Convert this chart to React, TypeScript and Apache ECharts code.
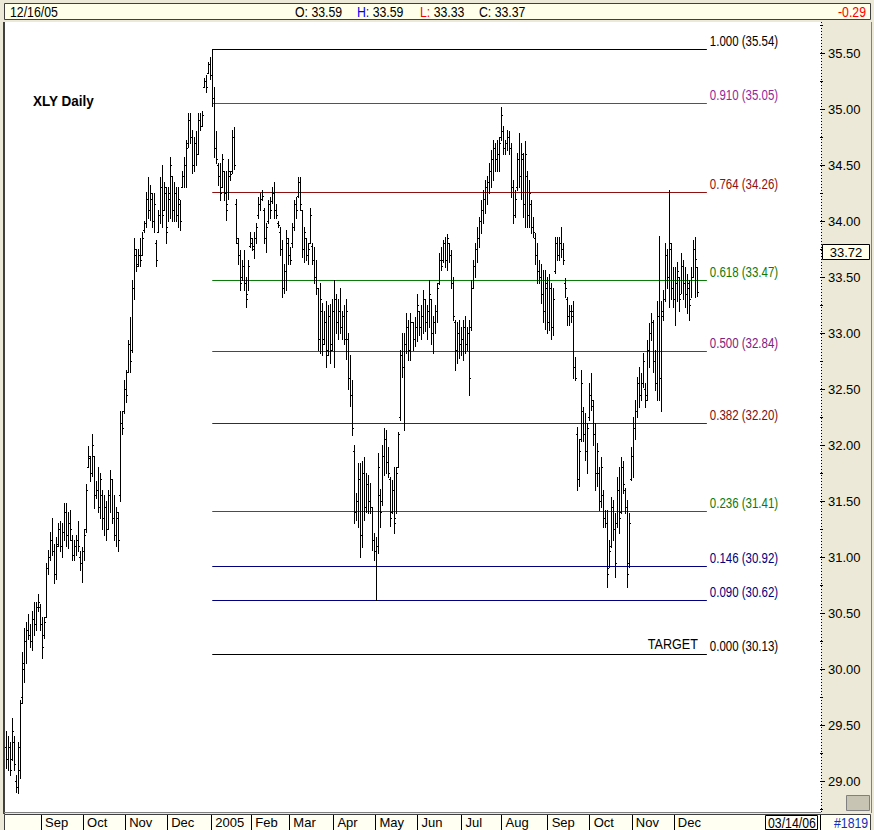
import React, { useEffect, useRef } from 'react';
import * as echarts from 'echarts';

// ---------- DATA ----------
const opens = [
  29.30, 29.20, 29.30, 29.20, 29.35, 29.00, 28.95, 29.10, 29.75, 30.00,
  30.25, 30.35, 30.30, 30.25, 30.45, 30.40, 30.55, 30.55, 30.40, 30.30,
  30.46, 30.90, 31.00, 31.15, 31.05, 30.85, 31.12, 31.25, 31.10, 31.22,
  31.40, 31.20, 31.30, 31.15, 31.02, 31.10, 31.15, 31.00, 30.95, 31.05,
  31.25, 31.80, 31.88, 31.75, 31.90, 31.55, 31.60, 31.45, 31.55, 31.35,
  31.45, 31.25, 31.55, 31.70, 31.35, 31.20, 31.35, 31.55, 32.20, 32.30,
  32.50, 32.65, 32.90, 32.85, 33.40, 33.70, 33.62, 33.70, 33.70, 33.92,
  33.98, 34.20, 34.10, 34.20, 34.00, 33.80, 33.90, 34.05, 34.30, 34.10,
  34.25, 33.95, 34.20, 34.40, 34.10, 34.25, 34.05, 34.15, 34.30, 34.40,
  34.50, 34.70, 34.90, 34.75, 34.50, 34.70, 34.60, 34.90, 34.85, 35.20,
  35.25, 35.32, 35.40, 35.30, 35.10, 34.65, 34.50, 34.40, 34.30, 34.45,
  34.25, 34.15, 34.40, 34.45, 34.75, 34.15, 33.80, 33.70, 33.50, 33.60,
  33.45, 33.35, 33.78, 33.80, 33.75, 33.85, 34.05, 34.15, 34.20, 34.10,
  33.85, 34.00, 34.15, 34.18, 34.25, 34.10, 33.98, 33.90, 33.75, 33.40,
  33.55, 33.80, 33.70, 33.80, 33.95, 34.15, 34.22, 34.35, 34.10, 33.75,
  33.85, 33.70, 33.80, 33.78, 33.65, 33.50, 33.40, 32.95, 33.20, 32.95,
  33.10, 32.85, 33.15, 32.90, 33.20, 33.30, 33.10, 33.20, 33.05, 33.15,
  32.95, 32.95, 32.60, 32.45, 31.95, 31.40, 31.50, 31.70, 31.20, 31.75,
  31.45, 31.65, 31.50, 31.45, 31.15, 31.05, 31.10, 31.55, 31.50, 31.90,
  32.05, 31.85, 31.70, 31.40, 31.60, 31.35, 31.80, 32.25, 32.80, 32.70,
  32.90, 33.05, 32.85, 33.10, 32.95, 33.05, 33.20, 33.05, 33.15, 33.30,
  33.10, 33.20, 33.30, 33.00, 33.10, 33.20, 33.45, 33.65, 33.65, 33.80,
  33.65, 33.80, 33.70, 33.45, 33.10, 32.85, 33.00, 32.90, 32.95, 33.05,
  32.90, 33.00, 33.05, 33.40, 33.60, 33.75, 33.85, 34.00, 34.10, 34.20,
  34.30, 34.35, 34.45, 34.55, 34.65, 34.55, 34.60, 34.75, 34.80, 34.65,
  34.70, 34.75, 34.65, 34.30, 34.05, 34.30, 34.55, 34.40, 34.55, 34.15,
  34.40, 34.05, 34.15, 33.95, 33.85, 33.70, 33.55, 33.50, 33.35, 33.20,
  33.40, 33.10, 33.40, 33.05, 33.55, 33.80, 33.70, 33.80, 33.75, 33.45,
  33.30, 33.15, 33.20, 33.20, 32.70, 32.10, 31.70, 32.05, 32.30, 32.10,
  31.95, 32.25, 32.45, 32.35, 32.10, 31.75, 31.75, 31.50, 31.55, 31.35,
  31.30, 30.90, 31.10, 31.45, 31.25, 31.30, 31.60, 31.40, 31.80, 31.60,
  31.45, 30.95, 31.70, 31.90, 32.15, 32.30, 32.55, 32.45, 32.55, 32.50,
  32.45, 32.85, 33.00, 33.10, 32.75, 32.55, 33.15, 32.60, 33.15, 33.30,
  33.70, 33.50, 33.75, 33.40, 33.30, 33.45, 33.50, 33.35, 33.60, 33.45,
  33.35, 33.40, 33.30, 33.50, 33.75, 33.59,
];
const highs = [
  29.45, 29.40, 29.35, 29.56, 29.40, 29.05, 29.35, 29.72, 30.15, 30.37,
  30.42, 30.49, 30.40, 30.52, 30.60, 30.60, 30.67, 30.58, 30.46, 30.46,
  30.95, 31.06, 31.22, 31.35, 31.12, 31.18, 31.30, 31.32, 31.30, 31.48,
  31.48, 31.40, 31.42, 31.20, 31.15, 31.20, 31.32, 31.05, 31.09, 31.25,
  31.65, 31.99, 31.90, 32.10, 31.90, 31.68, 31.80, 31.75, 31.60, 31.55,
  31.50, 31.60, 31.78, 31.70, 31.55, 31.45, 31.40, 32.30, 32.30, 32.58,
  32.67, 32.94, 33.14, 33.47, 33.85, 33.75, 33.75, 33.85, 33.90, 34.00,
  34.26, 34.39, 34.32, 34.25, 34.25, 33.83, 34.10, 34.39, 34.50, 34.35,
  34.30, 34.30, 34.57, 34.40, 34.35, 34.30, 34.30, 34.19, 34.45, 34.57,
  34.72, 34.96, 34.96, 34.81, 34.75, 34.80, 34.96, 34.96, 34.98, 35.28,
  35.30, 35.42, 35.46, 35.54, 35.20, 34.80, 34.52, 34.52, 34.60, 34.45,
  34.45, 34.55, 34.45, 34.81, 34.84, 34.20, 33.85, 33.74, 33.65, 33.74,
  33.50, 33.65, 33.90, 33.85, 33.90, 33.98, 34.21, 34.25, 34.28, 34.12,
  33.98, 34.19, 34.21, 34.30, 34.35, 34.15, 34.00, 33.95, 33.83, 33.62,
  33.92, 33.85, 33.77, 33.98, 34.19, 34.21, 34.39, 34.39, 34.10, 33.95,
  33.85, 33.80, 34.12, 33.80, 33.77, 33.65, 33.40, 33.45, 33.27, 33.20,
  33.29, 33.25, 33.26, 33.30, 33.47, 33.35, 33.30, 33.40, 33.20, 33.25,
  33.30, 33.00, 32.80, 32.58, 32.00, 31.57, 31.84, 31.84, 31.86, 31.89,
  31.75, 31.73, 31.66, 31.45, 31.21, 31.18, 31.93, 31.61, 32.00, 32.15,
  32.13, 31.98, 31.71, 31.69, 31.80, 31.80, 32.12, 32.85, 33.00, 33.00,
  33.18, 33.12, 33.18, 33.10, 33.14, 33.35, 33.20, 33.25, 33.38, 33.30,
  33.25, 33.47, 33.30, 33.15, 33.25, 33.45, 33.71, 33.77, 33.83, 33.86,
  33.88, 33.80, 33.74, 33.50, 33.12, 33.10, 33.12, 33.05, 33.12, 33.15,
  33.05, 33.12, 33.47, 33.65, 33.80, 33.95, 34.04, 34.19, 34.28, 34.37,
  34.40, 34.52, 34.63, 34.72, 34.70, 34.72, 34.75, 35.02, 34.85, 34.72,
  34.81, 34.80, 34.70, 34.37, 34.28, 34.61, 34.79, 34.70, 34.61, 34.71,
  34.45, 34.37, 34.19, 34.04, 33.89, 33.80, 33.65, 33.62, 33.56, 33.56,
  33.50, 33.53, 33.45, 33.40, 33.86, 33.86, 33.86, 33.95, 33.80, 33.49,
  33.32, 33.25, 33.25, 33.29, 32.79, 32.16, 32.05, 32.67, 32.34, 32.29,
  32.20, 32.55, 32.64, 32.40, 32.20, 32.02, 31.80, 31.89, 31.60, 31.42,
  31.42, 31.15, 31.54, 31.51, 31.39, 31.71, 31.80, 31.89, 31.86, 31.62,
  31.51, 31.39, 31.98, 32.25, 32.40, 32.61, 32.70, 32.64, 32.82, 32.55,
  32.94, 33.09, 33.18, 33.12, 32.85, 33.29, 33.87, 33.29, 33.38, 33.80,
  33.75, 34.28, 33.80, 33.59, 33.59, 33.63, 33.50, 33.71, 33.65, 33.59,
  33.53, 33.47, 33.59, 33.83, 33.86, 33.59,
];
const lows = [
  29.12, 29.10, 29.05, 29.19, 29.10, 28.90, 28.89, 29.03, 29.70, 29.88,
  30.05, 30.27, 30.20, 30.17, 30.30, 30.35, 30.52, 30.35, 30.10, 30.28,
  30.46, 30.85, 30.97, 31.02, 30.77, 30.80, 31.10, 31.05, 31.00, 31.15,
  31.10, 31.08, 31.15, 30.97, 30.97, 31.02, 31.05, 30.88, 30.78, 30.97,
  31.22, 31.80, 31.68, 31.72, 31.44, 31.53, 31.40, 31.35, 31.25, 31.20,
  31.15, 31.25, 31.40, 31.30, 31.15, 31.10, 31.05, 31.50, 32.10, 32.29,
  32.38, 32.65, 32.65, 32.83, 33.30, 33.55, 33.60, 33.60, 33.70, 33.90,
  33.95, 34.03, 34.01, 33.95, 33.90, 33.60, 33.90, 33.98, 33.95, 34.10,
  33.80, 34.00, 34.03, 34.00, 34.00, 34.00, 33.95, 33.92, 34.30, 34.30,
  34.30, 34.66, 34.70, 34.43, 34.45, 34.50, 34.60, 34.81, 34.85, 35.20,
  35.15, 35.32, 35.27, 35.03, 34.57, 34.52, 34.32, 34.19, 34.30, 34.19,
  34.01, 34.20, 34.37, 34.43, 34.46, 33.80, 33.62, 33.38, 33.47, 33.38,
  33.23, 33.38, 33.77, 33.74, 33.67, 33.80, 34.03, 34.10, 34.19, 33.80,
  33.72, 33.98, 34.03, 34.16, 34.03, 34.03, 33.95, 33.70, 33.32, 33.36,
  33.38, 33.62, 33.62, 33.77, 33.92, 34.03, 34.21, 34.10, 33.68, 33.63,
  33.65, 33.62, 33.80, 33.62, 33.45, 33.35, 32.85, 32.82, 32.80, 32.90,
  32.70, 32.80, 32.73, 32.85, 32.70, 33.00, 32.95, 33.00, 32.95, 32.90,
  32.77, 32.50, 32.35, 32.09, 31.30, 31.33, 31.27, 31.00, 31.09, 31.33,
  31.40, 31.39, 31.39, 31.06, 30.97, 30.62, 31.04, 31.27, 31.46, 31.73,
  31.75, 31.71, 31.28, 31.39, 31.21, 31.39, 31.80, 32.22, 32.61, 32.13,
  32.82, 32.76, 32.76, 32.85, 32.88, 32.93, 32.98, 32.95, 33.00, 33.02,
  32.95, 33.05, 32.90, 32.82, 33.00, 33.10, 33.44, 33.56, 33.63, 33.59,
  33.56, 33.63, 33.40, 33.12, 32.67, 32.73, 32.78, 32.80, 32.76, 32.82,
  32.85, 32.45, 33.03, 33.40, 33.50, 33.63, 33.77, 33.89, 33.98, 34.07,
  34.15, 34.25, 34.30, 34.37, 34.45, 34.45, 34.45, 34.72, 34.60, 34.60,
  34.63, 34.60, 34.21, 33.98, 34.04, 34.28, 34.30, 34.20, 34.04, 33.95,
  33.95, 33.95, 33.89, 33.86, 33.62, 33.45, 33.45, 33.27, 33.10, 33.04,
  33.00, 33.03, 32.95, 32.98, 33.54, 33.65, 33.65, 33.68, 33.62, 33.32,
  33.07, 33.07, 33.10, 32.60, 32.58, 31.60, 31.63, 32.04, 32.04, 31.87,
  31.75, 32.22, 32.31, 32.00, 31.60, 31.63, 31.42, 31.45, 31.27, 31.27,
  30.73, 30.91, 31.09, 31.15, 30.82, 31.27, 31.21, 31.39, 31.57, 31.39,
  30.73, 30.91, 31.69, 31.71, 32.05, 32.25, 32.34, 32.40, 32.52, 32.34,
  32.40, 32.70, 32.94, 32.65, 32.49, 32.40, 32.40, 32.30, 33.12, 33.29,
  33.40, 33.23, 33.30, 33.23, 33.07, 33.29, 33.20, 33.36, 33.30, 33.23,
  33.18, 33.12, 33.32, 33.50, 33.32, 33.33,
];
const closes = [
  29.20, 29.30, 29.10, 29.45, 29.15, 28.95, 29.30, 29.70, 30.05, 30.25,
  30.35, 30.30, 30.25, 30.45, 30.40, 30.55, 30.60, 30.40, 30.20, 30.42,
  30.90, 31.00, 31.15, 31.05, 30.85, 31.10, 31.25, 31.10, 31.22, 31.40,
  31.20, 31.30, 31.25, 31.02, 31.10, 31.15, 31.10, 30.95, 31.05, 31.20,
  31.60, 31.90, 31.75, 32.00, 31.55, 31.60, 31.45, 31.70, 31.35, 31.45,
  31.25, 31.55, 31.70, 31.35, 31.20, 31.40, 31.15, 32.20, 32.15, 32.50,
  32.45, 32.90, 32.75, 33.40, 33.75, 33.60, 33.70, 33.65, 33.85, 33.98,
  34.20, 34.10, 34.25, 34.00, 34.15, 33.65, 34.05, 34.30, 34.05, 34.30,
  33.90, 34.25, 34.50, 34.10, 34.25, 34.05, 34.20, 34.00, 34.40, 34.50,
  34.65, 34.90, 34.75, 34.50, 34.70, 34.60, 34.90, 34.85, 34.95, 35.25,
  35.20, 35.40, 35.30, 35.10, 34.65, 34.55, 34.40, 34.25, 34.55, 34.25,
  34.10, 34.45, 34.42, 34.75, 34.50, 33.85, 33.70, 33.45, 33.60, 33.45,
  33.30, 33.60, 33.85, 33.78, 33.85, 33.95, 34.15, 34.20, 34.22, 33.85,
  33.95, 34.15, 34.10, 34.25, 34.10, 34.05, 33.96, 33.75, 33.40, 33.55,
  33.85, 33.70, 33.65, 33.95, 34.15, 34.10, 34.35, 34.15, 33.75, 33.90,
  33.70, 33.75, 34.05, 33.65, 33.50, 33.40, 32.95, 33.30, 32.90, 33.10,
  32.80, 33.15, 32.85, 33.20, 33.30, 33.10, 33.20, 33.05, 33.15, 32.95,
  33.20, 32.60, 32.45, 32.15, 31.40, 31.50, 31.70, 31.20, 31.75, 31.45,
  31.65, 31.50, 31.45, 31.15, 31.05, 31.10, 31.80, 31.40, 31.90, 32.05,
  31.85, 31.75, 31.35, 31.60, 31.30, 31.75, 32.10, 32.80, 32.70, 32.90,
  33.05, 32.85, 33.10, 32.95, 33.05, 33.25, 33.05, 33.15, 33.30, 33.10,
  33.20, 33.35, 33.00, 33.10, 33.20, 33.40, 33.65, 33.60, 33.80, 33.65,
  33.85, 33.70, 33.45, 33.15, 32.85, 33.00, 32.90, 32.95, 33.05, 32.90,
  33.00, 32.60, 33.40, 33.60, 33.75, 33.85, 34.00, 34.10, 34.20, 34.30,
  34.35, 34.45, 34.55, 34.65, 34.55, 34.60, 34.70, 34.95, 34.65, 34.70,
  34.75, 34.65, 34.30, 34.05, 34.20, 34.55, 34.40, 34.60, 34.15, 34.60,
  34.05, 34.25, 33.95, 33.90, 33.70, 33.55, 33.50, 33.35, 33.20, 33.45,
  33.10, 33.40, 33.05, 33.30, 33.80, 33.70, 33.80, 33.75, 33.65, 33.40,
  33.15, 33.20, 33.15, 32.70, 32.60, 31.70, 31.95, 32.55, 32.10, 31.95,
  32.15, 32.45, 32.40, 32.10, 31.75, 31.95, 31.50, 31.80, 31.35, 31.30,
  30.85, 31.05, 31.45, 31.25, 30.95, 31.60, 31.35, 31.80, 31.65, 31.45,
  30.85, 31.30, 31.90, 32.15, 32.30, 32.55, 32.45, 32.55, 32.75, 32.40,
  32.85, 33.00, 33.10, 32.75, 32.55, 33.15, 32.60, 33.20, 33.30, 33.70,
  33.50, 33.80, 33.40, 33.30, 33.45, 33.55, 33.30, 33.60, 33.45, 33.35,
  33.45, 33.25, 33.50, 33.75, 33.66, 33.37,
];

const firstTradingDay = '2004-08-06';
const marketHolidays = [
  '2004-09-06', '2004-11-25', '2004-12-24', '2005-01-17', '2005-02-21',
  '2005-03-25', '2005-05-30', '2005-07-04', '2005-09-05', '2005-11-24',
];
const totalSlots = 407; // axis runs on to 03/14/06
const monthNames = ['Jan', 'Feb', 'Mar', 'Apr', 'May', 'Jun', 'Jul', 'Aug', 'Sep', 'Oct', 'Nov', 'Dec'];

const fibRatios = [1.0, 0.91, 0.764, 0.618, 0.5, 0.382, 0.236, 0.146, 0.09, 0.0];
const fibPrices = [35.54, 35.05, 34.26, 33.47, 32.84, 32.2, 31.41, 30.92, 30.62, 30.13];
const fibColors = ['#000000', '#93279A', '#8E1010', '#0A7A0A', '#802080', '#7A1010', '#0A7A0A', '#000080', '#000080', '#000000'];
const fibStartIndex = 103;
const fibEndIndex = 350;
const targetLabel = 'TARGET';

const yTicks = { min: 28.5, max: 36.0, step: 0.5 };
const lastPriceMarker = 33.72;
const chartTitle = 'XLY Daily';
const rightDateText = '03/14/06';
const barCountText = '#1819';
const headerDate = '12/16/05';

// ---------- HELPERS ----------
function buildTradingDays(start: string, count: number, skip: string[]): string[] {
  const out: string[] = [];
  const d = new Date(start + 'T00:00:00Z');
  while (out.length < count) {
    const dow = d.getUTCDay();
    const s = d.toISOString().slice(0, 10);
    if (dow !== 0 && dow !== 6 && skip.indexOf(s) < 0) out.push(s);
    d.setUTCDate(d.getUTCDate() + 1);
  }
  return out;
}

const SANS = '"Liberation Sans", Arial, Helvetica, sans-serif';
const NARROW_X = 0.82; // horizontal squeeze to imitate a narrow face

export default function App() {
  const ref = useRef<HTMLDivElement>(null);

  useEffect(() => {
    document.body.style.margin = '0';
    const el = ref.current!;
    const chart = echarts.init(el, null, { renderer: 'svg' });

    const n = closes.length;
    const days = buildTradingDays(firstTradingDay, n, marketHolidays);
    const cats: string[] = [];
    for (let i = 0; i < totalSlots; i++) cats.push(i < n ? days[i] : 'f' + i);
    const monthStart: boolean[] = cats.map((c, i) =>
      i > 0 && i < n && c.slice(5, 7) !== cats[i - 1].slice(5, 7)
    );

    const ohlcData = closes.map((c, i) => [i, opens[i], highs[i], lows[i], c]);
    const fibData = fibPrices.map((p, k) => [fibStartIndex, fibEndIndex, p, k]);

    const option: any = {
      animation: false,
      backgroundColor: '#ECE9D8',
      grid: { left: 5, right: 54, top: -3, bottom: -7, containLabel: false, outerBoundsMode: 'none' },
      xAxis: {
        type: 'category',
        data: cats,
        boundaryGap: true,
        offset: -22,
        axisLine: { show: false },
        axisTick: {
          show: true,
          interval: (i: number) => monthStart[i],
          length: 15,
          lineStyle: { color: '#000', width: 1 },
        },
        axisLabel: {
          interval: (i: number) => monthStart[i],
          formatter: (v: string) => {
            const m = parseInt(v.slice(5, 7), 10);
            return m === 1 ? v.slice(0, 4) : monthNames[m - 1];
          },
          color: '#000',
          fontSize: 13,
          fontFamily: SANS,
          align: 'left',
          margin: 1,
          padding: [0, 0, 0, 3],
        },
        splitLine: { show: false },
      },
      yAxis: {
        type: 'value',
        position: 'right',
        min: yTicks.min,
        max: yTicks.max,
        interval: yTicks.step,
        axisLine: { show: false },
        axisTick: { show: true, length: 5, lineStyle: { color: '#000' } },
        minorTick: { show: true, splitNumber: 2, length: 3, lineStyle: { color: '#000' } },
        axisLabel: {
          formatter: (v: number) => v.toFixed(2),
          color: '#000',
          fontSize: 13,
          fontFamily: SANS,
          margin: 8,
          showMinLabel: false,
          showMaxLabel: false,
        },
        splitLine: { show: false },
      },
      series: [
        {
          type: 'custom',
          name: 'fib',
          data: fibData,
          encode: { x: [0, 1], y: 2 },
          clip: false,
          z: 3,
          renderItem: (params: any, api: any) => {
            const k = api.value(3);
            const p1 = api.coord([api.value(0), api.value(2)]);
            const p2 = api.coord([api.value(1), api.value(2)]);
            const y = Math.round(p1[1]) + 0.5;
            const col = fibColors[k];
            const children: any[] = [
              { type: 'line', shape: { x1: p1[0], y1: y, x2: p2[0], y2: y }, style: { stroke: col, lineWidth: 1 } },
              {
                type: 'text',
                x: p2[0] + 3,
                y: y - 8,
                scaleX: NARROW_X,
                style: {
                  text: fibRatios[k].toFixed(3) + ' (' + fibPrices[k].toFixed(2) + ')',
                  fill: col,
                  fontSize: 14,
                  fontFamily: SANS,
                  align: 'left',
                  verticalAlign: 'middle',
                },
              },
            ];
            if (fibRatios[k] === 0) {
              children.push({
                type: 'text',
                x: p2[0] - 9,
                y: y - 10,
                scaleX: 0.9,
                style: { text: targetLabel, fill: '#000', fontSize: 14, fontFamily: SANS, align: 'right', verticalAlign: 'middle' },
              });
            }
            return { type: 'group', children };
          },
        },
        {
          type: 'custom',
          name: 'XLY',
          data: ohlcData,
          encode: { x: 0, y: [1, 2, 3, 4] },
          z: 4,
          renderItem: (params: any, api: any) => {
            const i = api.value(0);
            const pH = api.coord([i, api.value(2)]);
            const pL = api.coord([i, api.value(3)]);
            const pO = api.coord([i, api.value(1)]);
            const pC = api.coord([i, api.value(4)]);
            const x = Math.round(pH[0]);
            const yH = Math.round(pH[1]);
            const yL = Math.round(pL[1]);
            const st = { fill: '#000' };
            return {
              type: 'group',
              children: [
                { type: 'rect', shape: { x: x, y: yH, width: 1, height: Math.max(1, yL - yH + 1) }, style: st },
                { type: 'rect', shape: { x: x - 1, y: Math.round(pO[1]), width: 1, height: 1 }, style: st },
                { type: 'rect', shape: { x: x + 1, y: Math.round(pC[1]), width: 1, height: 1 }, style: st },
              ],
            };
          },
        },
      ],
    };
    chart.setOption(option);

    const yMarker = chart.convertToPixel({ yAxisIndex: 0 }, lastPriceMarker) as number;
    const lastO = opens[n - 1], lastH = highs[n - 1], lastL = lows[n - 1], lastC = closes[n - 1];
    const change = lastC - closes[n - 2];

    const hdr = (x: number, text: string, fill: string, extra: any = {}) => ({
      type: 'text', z: 102, x, y: 12, scaleX: NARROW_X,
      style: { text, fill, fontSize: 15, fontFamily: SANS, verticalAlign: 'middle', ...extra },
    });

    const graphics: any[] = [
      // plot background
      { type: 'rect', z: -10, shape: { x: 5, y: 22, width: 816, height: 790 }, style: { fill: '#FFFFFF' } },
      // bottom strip
      { type: 'rect', z: -10, shape: { x: 4.5, y: 814.5, width: 866, height: 16 }, style: { fill: '#FFFFF2', stroke: '#404040', lineWidth: 1 } },
      // left border of plot
      { type: 'rect', z: 50, shape: { x: 3, y: 22, width: 2, height: 792 }, style: { fill: '#404040' } },
      { type: 'line', z: 50, shape: { x1: 4, y1: 812.5, x2: 821, y2: 812.5 }, style: { stroke: '#808080', lineWidth: 1 } },
      // price axis dotted line
      { type: 'line', z: 50, shape: { x1: 821.5, y1: 22, x2: 821.5, y2: 812 }, style: { stroke: '#000', lineWidth: 1, lineDash: [1, 2] } },
      { type: 'line', z: 50, shape: { x1: 871.5, y1: 22, x2: 871.5, y2: 813 }, style: { stroke: '#808080', lineWidth: 1 } },
      // header bar
      { type: 'rect', z: 100, shape: { x: 0, y: 0, width: 874, height: 22 }, style: { fill: '#ECE9D8' } },
      { type: 'rect', z: 101, shape: { x: 4.5, y: 3.5, width: 866, height: 16 }, style: { fill: '#FFFFEA', stroke: '#404040', lineWidth: 1 } },
      hdr(10, headerDate, '#000'),
      hdr(295, 'O: ' + lastO.toFixed(2), '#000'),
      hdr(357, '{b|H:} ' + lastH.toFixed(2), '#000', { rich: { b: { fill: '#0000FF', fontSize: 15, fontFamily: SANS } } }),
      hdr(420, '{r|L:} ' + lastL.toFixed(2), '#000', { rich: { r: { fill: '#FF0000', fontSize: 15, fontFamily: SANS } } }),
      hdr(479, 'C: ' + lastC.toFixed(2), '#000'),
      hdr(866, change.toFixed(2), '#FF0000', { align: 'right' }),
      // title
      { type: 'text', z: 60, x: 33, y: 101, scaleX: 0.9, style: { text: chartTitle, fill: '#000', fontSize: 15, fontWeight: 'bold', fontFamily: SANS, verticalAlign: 'middle' } },
      // last price marker box
      { type: 'rect', z: 60, shape: { x: 822.5, y: Math.round(yMarker) - 7.5, width: 47, height: 15 }, style: { fill: '#FFFFEA', stroke: '#000', lineWidth: 1 } },
      { type: 'text', z: 61, x: 846, y: Math.round(yMarker), style: { text: lastPriceMarker.toFixed(2), fill: '#000', fontSize: 13, fontFamily: SANS, align: 'center', verticalAlign: 'middle' } },
      // bottom right boxes
      { type: 'rect', z: 60, shape: { x: 765.5, y: 815.5, width: 52, height: 14 }, style: { fill: '#FFFFF8', stroke: '#000', lineWidth: 1 } },
      { type: 'text', z: 61, x: 768, y: 823, scaleX: NARROW_X, style: { text: rightDateText, fill: '#000', fontSize: 15, fontFamily: SANS, verticalAlign: 'middle' } },
      { type: 'text', z: 61, x: 834, y: 823, scaleX: NARROW_X, style: { text: barCountText, fill: '#1030C0', fontSize: 15, fontFamily: SANS, verticalAlign: 'middle' } },
      // small icon at the bottom of the price axis
      { type: 'rect', z: 60, shape: { x: 846.5, y: 795.5, width: 23, height: 15 }, style: { fill: '#C8C4B4', stroke: '#808080', lineWidth: 1 } },
    ];
    chart.setOption({ graphic: graphics });

    return () => chart.dispose();
  }, []);

  return <div ref={ref} style={{ width: 874, height: 830 }} />;
}
